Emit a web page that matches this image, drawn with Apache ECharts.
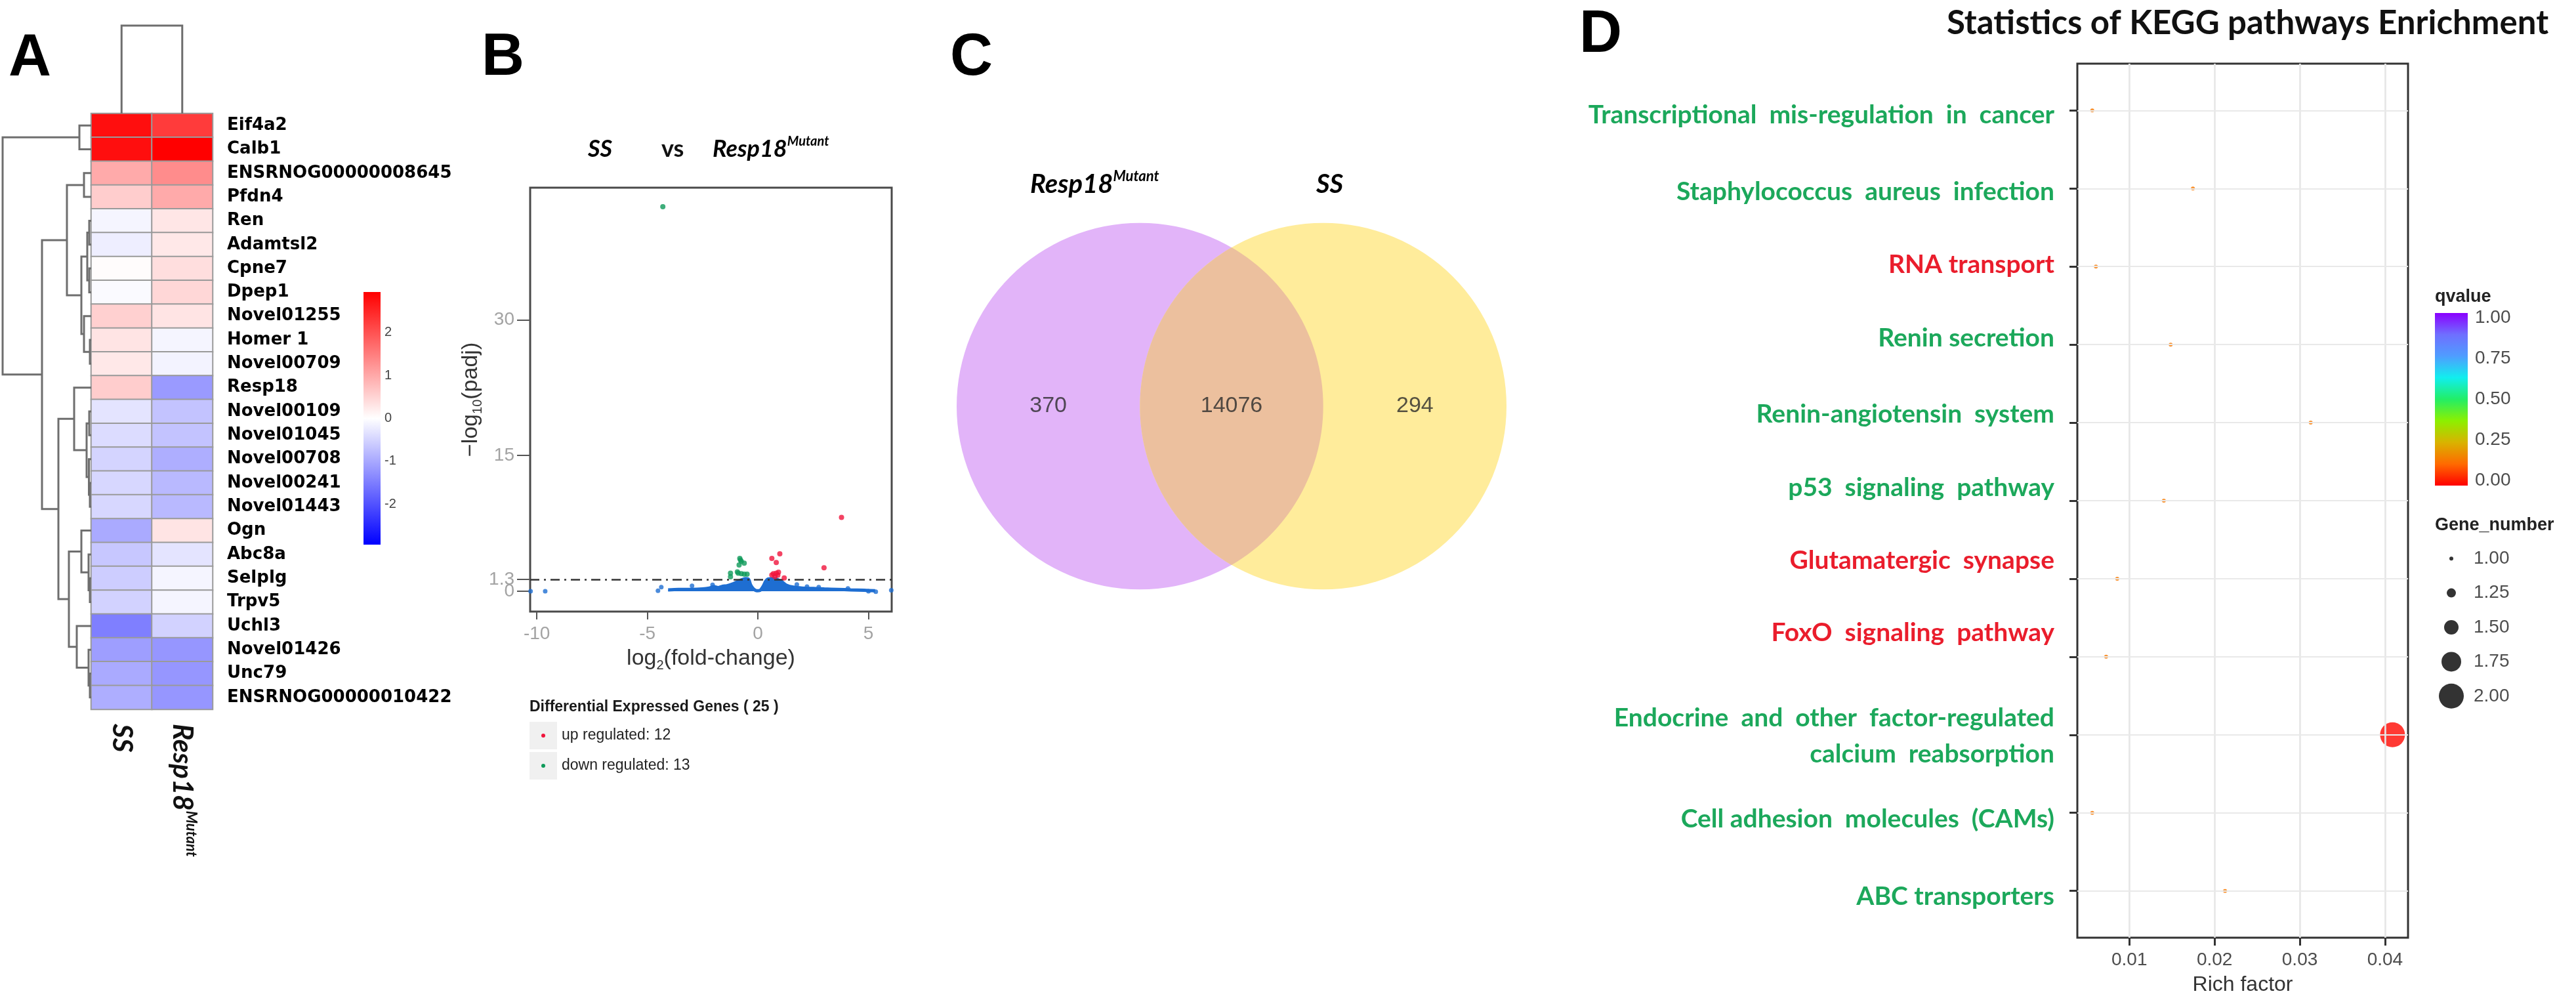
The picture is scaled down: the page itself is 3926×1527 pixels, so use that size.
<!DOCTYPE html>
<html>
<head>
<meta charset="utf-8">
<title>Resp18 transcriptome figure</title>
<script src="https://cdn.jsdelivr.net/npm/echarts@6/dist/echarts.min.js"></script>
<style>
html,body{margin:0;padding:0;background:#ffffff;}
#chart{width:3926px;height:1527px;}
</style>
</head>
<body>
<div id="chart"></div>
<script>
// ================= DATA =================
// ---- Panel A: heatmap (row z-scores) ----
const heatGenes = ['Eif4a2','Calb1','ENSRNOG00000008645','Pfdn4','Ren','Adamtsl2','Cpne7','Dpep1','Novel01255','Homer 1','Novel00709','Resp18','Novel00109','Novel01045','Novel00708','Novel00241','Novel01443','Ogn','Abc8a','Selplg','Trpv5','Uchl3','Novel01426','Unc79','ENSRNOG00000010422'];
const heatGroups = ['SS', 'Resp18Mutant'];
const heatSS     = [2.78, 2.78, 0.98, 0.58, -0.12, -0.20, 0.03, -0.06, 0.54, 0.31, 0.27, 0.58, -0.31, -0.40, -0.50, -0.46, -0.46, -0.98, -0.64, -0.58, -0.52, -1.48, -1.12, -0.98, -0.93];
const heatMutant = [2.26, 2.95, 1.33, 0.98, 0.29, 0.27, 0.38, 0.46, 0.31, -0.12, -0.14, -1.16, -0.69, -0.69, -0.93, -0.81, -0.81, 0.31, -0.31, -0.12, -0.12, -0.52, -1.21, -1.21, -1.21];
const heatScaleTicks = [-2, -1, 0, 1, 2];
// row dendrogram merges: [childA, childB, height]; ids >= 25 refer to earlier merges (25 + k)
const rowMerges = [
  [2, 3, 11], [0, 1, 18], [4, 5, 3], [6, 7, 3], [27, 28, 6], [9, 10, 2], [8, 30, 11], [29, 31, 15],
  [25, 32, 37], [12, 13, 3], [15, 16, 2], [14, 35, 3.5], [34, 36, 7], [11, 37, 26], [19, 20, 2],
  [18, 39, 4], [17, 40, 15], [23, 24, 2], [22, 42, 4], [21, 43, 22], [41, 44, 34], [38, 45, 50],
  [33, 46, 75], [26, 47, 135]
];
const colMerges = [[0, 1, 1]];

// ---- Panel B: volcano ----
const volcanoUp = [[3.78, 8.16], [0.99, 4.14], [0.63, 3.62], [0.83, 3.17], [2.99, 2.59], [0.70, 1.94], [0.83, 2.00], [0.90, 1.78], [0.77, 1.62], [0.93, 2.10], [1.19, 1.46], [0.63, 1.80]];
const volcanoDown = [[-4.30, 42.5], [-0.82, 3.62], [-0.79, 3.45], [-0.75, 3.30], [-0.62, 3.10], [-0.85, 2.90], [-1.24, 2.00], [-1.24, 1.60], [-0.93, 2.14], [-0.89, 2.00], [-0.75, 1.94], [-0.62, 1.88], [-0.49, 1.88]];
const volcanoNsScatter = [[-10.28, 0.0], [-9.62, 0.0], [-4.52, 0.05], [-4.37, 0.45], [-2.98, 0.6], [-2.05, 0.7], [1.76, 0.75], [2.22, 0.5], [2.75, 0.45], [4.07, 0.3], [5.0, 0.0], [5.33, -0.05], [6.03, 0.1]];
const volcanoNsEnvelope = [[-4.06, 0.15], [-3.6, 0.2], [-3.0, 0.2], [-2.5, 0.25], [-2.2, 0.35], [-2.0, 0.5], [-1.8, 0.4], [-1.6, 0.55], [-1.4, 0.6], [-1.2, 0.75], [-1.0, 0.95], [-0.85, 1.15], [-0.7, 1.3], [-0.55, 1.4], [-0.42, 1.3], [-0.33, 0.7], [-0.2, 0.25], [-0.05, 0.05], [0.1, 0.1], [0.25, 0.6], [0.35, 1.1], [0.45, 1.35], [0.75, 1.4], [0.95, 1.2], [1.1, 1.0], [1.3, 0.65], [1.6, 0.45], [2.0, 0.35], [2.5, 0.3], [3.0, 0.25], [3.6, 0.2], [4.2, 0.15], [4.8, 0.1], [5.3, 0.05]];
const padjCut = 1.3;
const volcanoXTicks = [-10, -5, 0, 5];
const volcanoYTicks = [1.3, 15, 30];
const volcanoYZeroTick = [0];

// ---- Panel C: Venn ----
const vennSets = ['Resp18Mutant', 'SS'];
const vennCounts = [370, 14076, 294];   // only first, both, only second

// ---- Panel D: KEGG enrichment ----
const keggPathways = ['Transcriptional  mis-regulation  in  cancer', 'Staphylococcus  aureus  infection', 'RNA transport', 'Renin secretion', 'Renin-angiotensin  system', 'p53  signaling  pathway', 'Glutamatergic  synapse', 'FoxO  signaling  pathway', 'Endocrine  and  other  factor-regulated\ncalcium  reabsorption', 'Cell adhesion  molecules  (CAMs)', 'ABC transporters'];
const keggRichFactor = [0.00565, 0.01746, 0.00608, 0.01485, 0.03128, 0.01405, 0.00858, 0.00728, 0.04088, 0.00565, 0.02123];
const keggGeneNumber = [1, 1, 1, 1, 1, 1, 1, 1, 2, 1, 1];
const keggQvalue = [0.15, 0.15, 0.15, 0.15, 0.15, 0.15, 0.15, 0.15, 0.01, 0.15, 0.15];
const keggRegulation = ['down', 'down', 'up', 'down', 'down', 'down', 'up', 'up', 'down', 'down', 'down'];
const keggXTicks = [0.01, 0.02, 0.03, 0.04];
const keggXMinor = [0.005, 0.015, 0.025, 0.035];
const qTicks = [0, 0.25, 0.5, 0.75, 1];
const geneLegend = [1, 1.25, 1.5, 1.75, 2];

// ================= STYLE / LAYOUT =================
const FA = '"Liberation Sans", Arial, sans-serif';
const FC = 'Lato, "Open Sans", sans-serif';
const FD = '"DejaVu Sans", sans-serif';
const BLUE = '#1e6ed2', UPC = '#f0143c', DOWNC = '#0f9a5a';
const heatColors = ['#0000ff', '#ffffff', '#ff0000'];
const keggRainbow = ['#ff0000', '#ff6a00', '#d9b300', '#8cf000', '#22ee66', '#11eeee', '#4f9dff', '#6f6fff', '#8a00ff'];
const keggLabelDy = [7, 5, -3, -10, -13, -20, -28, -36, 2, 10, 9];
const sizeOf = g => 6 + (g - 1) * 32;
const HEAT_LIM = 2.94;

const G = [
  {left: 139, top: 173, width: 185, height: 908},   // 0 heatmap
  {left: 4, top: 173, width: 135, height: 908},     // 1 row dendrogram
  {left: 139, top: 39, width: 185, height: 134},    // 2 column dendrogram
  {left: 554, top: 445, width: 26, height: 385},    // 3 heat colour key
  {left: 808, top: 286, width: 551, height: 646},   // 4 volcano
  {left: 1458, top: 339, width: 838, height: 560},  // 5 venn
  {left: 3166, top: 97, width: 504, height: 1332},  // 6 kegg
  {left: 3711, top: 484, width: 50, height: 248},   // 7 qvalue key
  {left: 3704, top: 825, width: 64, height: 262}    // 8 gene number key
];
const grids = G.map(g => Object.assign({containLabel: false, outerBoundsMode: 'none'}, g));
Object.assign(grids[4], {show: true, borderColor: '#4a4a4a', borderWidth: 3, backgroundColor: '#fff'});
Object.assign(grids[6], {show: true, borderColor: '#333', borderWidth: 3, backgroundColor: '#fff'});

const noLine = {show: false, onZero: false};
const noShow = {show: false};
function hAxis(gi, min, max, extra) {
  return Object.assign({type: 'value', gridIndex: gi, min: min, max: max, show: false, axisLine: noLine}, extra || {});
}

// dendrogram layout
const nLeaf = heatGenes.length;
const dPos = {}, dH = {};
for (let i = 0; i < nLeaf; i++) { dPos[i] = i + 0.5; dH[i] = 0; }
const rowSegs = rowMerges.map((m, k) => {
  const id = nLeaf + k, a = m[0], b = m[1], h = m[2];
  dPos[id] = (dPos[a] + dPos[b]) / 2; dH[id] = h;
  return [dH[a], dPos[a], dH[b], dPos[b], h];
});
const colSegs = colMerges.map(m => [m[0] + 0.5, m[1] + 0.5, m[2]]);

const heatData = [];
heatGenes.forEach((g, i) => { heatData.push([0, i, heatSS[i]]); heatData.push([1, i, heatMutant[i]]); });

const keggIdx = keggPathways.map((p, i) => i);
const keggRich = {};
keggPathways.forEach((p, i) => {
  const d = keggLabelDy[i];
  keggRich['r' + i] = {
    color: keggRegulation[i] === 'up' ? '#ea1d2c' : '#1ca85b',
    fontFamily: FC, fontWeight: 'bold', fontSize: 39, lineHeight: 55,
    padding: d >= 0 ? [2 * d, 0, 0, 0] : [0, 0, -2 * d, 0]
  };
});

const italicRich = (big, small) => ({
  i: {fontFamily: FC, fontStyle: 'italic', fontWeight: 'bold', fontSize: big, lineHeight: big + 6, color: '#111'},
  s: {fontFamily: FC, fontStyle: 'italic', fontWeight: 'bold', fontSize: small, lineHeight: small + 2, verticalAlign: 'top', color: '#111'}
});
const groupLabel = v => v === 'Resp18Mutant' ? '{i|Resp18}{s|Mutant}' : '{i|' + v + '}';
const volcYLabel = {color: '#a3a3a3', fontSize: 28, margin: 24, fontFamily: FA, hideOverlap: false};

// ================= OPTION =================
const xAxes = [
  {type: 'category', gridIndex: 0, data: heatGroups, axisLine: noLine, axisTick: noShow, splitLine: noShow,
   axisLabel: {rotate: -90, margin: 22, formatter: groupLabel, rich: italicRich(42, 22)}},
  hAxis(1, 0, 135, {inverse: true}),
  hAxis(2, 0, 2),
  hAxis(3, 0, 1),
  {type: 'value', gridIndex: 4, min: -10.3, max: 6.05, axisLine: noLine, splitLine: noShow,
   axisTick: {show: true, length: 12, customValues: volcanoXTicks, lineStyle: {color: '#555', width: 2}},
   axisLabel: {customValues: volcanoXTicks, color: '#a3a3a3', fontSize: 28, margin: 20, fontFamily: FA},
   name: '{a|log}{s|2}{a|(fold-change)}', nameLocation: 'middle', nameGap: 52,
   nameTextStyle: {rich: {a: {fontSize: 34, color: '#333', fontFamily: FA, lineHeight: 40},
                          s: {fontSize: 20, color: '#333', fontFamily: FA, lineHeight: 20, verticalAlign: 'bottom'}}}},
  hAxis(5, -1, 2),
  {type: 'value', gridIndex: 6, min: 0.0039, max: 0.0427, axisLine: noLine, splitLine: noShow,
   axisTick: {show: true, customValues: keggXTicks, length: 12, lineStyle: {color: '#333', width: 3}},
   axisLabel: {customValues: keggXTicks, formatter: v => v.toFixed(2), color: '#4d4d4d', fontSize: 28, margin: 20, fontFamily: FA},
   name: 'Rich factor', nameLocation: 'middle', nameGap: 56, nameTextStyle: {fontSize: 32, color: '#333', fontFamily: FA}},
  hAxis(7, 0, 1),
  hAxis(8, -1, 1)
];
const yAxes = [
  {type: 'category', gridIndex: 0, data: heatGenes, inverse: true, position: 'right', axisLine: noLine, axisTick: noShow, splitLine: noShow,
   axisLabel: {margin: 22, fontFamily: FD, fontWeight: 'bold', fontSize: 26, color: '#000', interval: 0}},
  hAxis(1, 0, 25, {inverse: true}),
  hAxis(2, 0, 1),
  {type: 'value', gridIndex: 3, min: -HEAT_LIM, max: HEAT_LIM, position: 'right', axisLine: noLine, axisTick: noShow, splitLine: noShow,
   axisLabel: {customValues: heatScaleTicks, margin: 6, fontSize: 20, color: '#444', fontFamily: FA}},
  {type: 'value', gridIndex: 4, min: -2.25, max: 44.6, position: 'left', axisLine: noLine, splitLine: noShow,
   axisTick: {show: true, length: 20, customValues: volcanoYTicks.concat(volcanoYZeroTick), lineStyle: {color: '#555', width: 2}},
   axisLabel: Object.assign({customValues: volcanoYTicks}, volcYLabel),
   name: '{a|\u2212log}{s|10}{a|(padj)}', nameLocation: 'middle', nameRotate: 90, nameGap: 70,
   nameTextStyle: {rich: {a: {fontSize: 34, color: '#333', fontFamily: FA, lineHeight: 40},
                          s: {fontSize: 20, color: '#333', fontFamily: FA, lineHeight: 20, verticalAlign: 'bottom'}}}},
  hAxis(5, -1, 1),
  {type: 'value', gridIndex: 6, min: -0.6, max: 10.6, inverse: true, axisLine: noLine, splitLine: noShow,
   axisTick: {show: true, customValues: keggIdx, length: 12, lineStyle: {color: '#333', width: 3}},
   axisLabel: {customValues: keggIdx, margin: 35, formatter: v => { const i = Math.round(v); return '{r' + i + '|' + keggPathways[i] + '}'; }, rich: keggRich}},
  {type: 'value', gridIndex: 7, min: 0, max: 1, position: 'right', axisLine: noLine, axisTick: noShow, splitLine: noShow,
   axisLabel: {customValues: qTicks, formatter: v => v.toFixed(2), margin: 11, fontSize: 28, color: '#4d4d4d', fontFamily: FA}},
  {type: 'category', gridIndex: 8, data: geneLegend.map(g => g.toFixed(2)), inverse: true, position: 'right', axisLine: noLine, axisTick: noShow, splitLine: noShow,
   axisLabel: {margin: 2, fontSize: 28, color: '#4d4d4d', fontFamily: FA}},
  // 9: second left axis on the volcano grid carrying only the "0" label (overlaps "1.3" as in the original)
  {type: 'value', gridIndex: 4, min: -2.25, max: 44.6, position: 'left', axisLine: noLine, axisTick: noShow, splitLine: noShow,
   axisLabel: Object.assign({customValues: volcanoYZeroTick}, volcYLabel)}
];

const series = [];
// 0 heatmap
series.push({type: 'heatmap', xAxisIndex: 0, yAxisIndex: 0, data: heatData, silent: true,
  itemStyle: {borderColor: '#9a9a9a', borderWidth: 2}});
// 1 row dendrogram
series.push({type: 'custom', xAxisIndex: 1, yAxisIndex: 1, data: rowSegs, silent: true,
  renderItem: (params, api) => {
    const ha = api.value(0), pa = api.value(1), hb = api.value(2), pb = api.value(3), h = api.value(4);
    return {type: 'polyline', shape: {points: [api.coord([ha, pa]), api.coord([h, pa]), api.coord([h, pb]), api.coord([hb, pb])]},
      style: {stroke: '#6e6e6e', lineWidth: 3, fill: 'none'}};
  }});
// 2 column dendrogram
series.push({type: 'custom', xAxisIndex: 2, yAxisIndex: 2, data: colSegs, silent: true,
  renderItem: (params, api) => {
    const pa = api.value(0), pb = api.value(1), h = api.value(2);
    return {type: 'polyline', shape: {points: [api.coord([pa, 0]), api.coord([pa, h]), api.coord([pb, h]), api.coord([pb, 0])]},
      style: {stroke: '#6e6e6e', lineWidth: 3, fill: 'none'}};
  }});
// 3 volcano dense non-significant cloud
series.push({type: 'line', xAxisIndex: 4, yAxisIndex: 4, data: volcanoNsEnvelope, showSymbol: false, symbol: 'none', smooth: 0.3, silent: true,
  lineStyle: {color: BLUE, width: 5}, areaStyle: {color: BLUE, opacity: 1, origin: 'auto'}, z: 2});
// 4 volcano scattered non-significant
series.push({type: 'scatter', xAxisIndex: 4, yAxisIndex: 4, data: volcanoNsScatter, symbolSize: 7, itemStyle: {color: BLUE}, silent: true, z: 3});
// 5 up
series.push({type: 'scatter', xAxisIndex: 4, yAxisIndex: 4, data: volcanoUp, symbolSize: 8, itemStyle: {color: UPC}, silent: true, z: 5,
  markLine: {silent: true, symbol: ['none', 'none'], label: {show: false}, animation: false,
    lineStyle: {color: '#333', width: 2.5, type: [14, 7, 3, 7]}, data: [{yAxis: padjCut}]}});
// 6 down
series.push({type: 'scatter', xAxisIndex: 4, yAxisIndex: 4, data: volcanoDown, symbolSize: 8, itemStyle: {color: DOWNC}, silent: true, z: 5});
// 7 venn circles
const vennColors = ['#e2b4f9', '#ffec9b'];
series.push({type: 'custom', xAxisIndex: 5, yAxisIndex: 5, data: vennSets.map((s, i) => [i, 0]), silent: true,
  renderItem: (params, api) => {
    const c = api.coord([api.value(0), api.value(1)]);
    const r = api.size([1, 0])[0];
    return {type: 'circle', shape: {cx: c[0], cy: c[1], r: r}, style: {fill: vennColors[params.dataIndex]}};
  }});
// 8 venn overlap lens
series.push({type: 'custom', xAxisIndex: 5, yAxisIndex: 5, data: [[0.5, 0]], silent: true,
  renderItem: (params, api) => {
    const c0 = api.coord([0, 0]), c1 = api.coord([1, 0]);
    const r = c1[0] - c0[0];
    const pts = [];
    for (let k = 0; k <= 60; k++) { const a = -Math.PI / 3 + (2 * Math.PI / 3) * k / 60; pts.push([c0[0] + r * Math.cos(a), c0[1] + r * Math.sin(a)]); }
    for (let k = 0; k <= 60; k++) { const a = 2 * Math.PI / 3 + (2 * Math.PI / 3) * k / 60; pts.push([c1[0] + r * Math.cos(a), c1[1] + r * Math.sin(a)]); }
    return {type: 'polygon', shape: {points: pts}, style: {fill: '#ecc09e'}};
  }});
// 9 venn counts
series.push({type: 'scatter', xAxisIndex: 5, yAxisIndex: 5, silent: true, symbolSize: 1, itemStyle: {color: 'rgba(0,0,0,0)'},
  data: [[-0.5, 0, vennCounts[0]], [0.5, 0, vennCounts[1]], [1.5, 0, vennCounts[2]]],
  label: {show: true, position: 'inside', formatter: p => String(p.value[2]), fontSize: 34, color: '#2b2b2b', fontFamily: FA}});
// 10 kegg grid lines
const gl = (c, w) => ({color: c, width: w, type: 'solid'});
series.push({type: 'scatter', xAxisIndex: 6, yAxisIndex: 6, data: [[0.01, 0]], symbolSize: 0, silent: true, z: 1,
  markLine: {silent: true, symbol: ['none', 'none'], label: {show: false}, animation: false,
    data: [].concat(
      keggXMinor.map(v => ({xAxis: v, lineStyle: gl('#f3f3f3', 1.5)})),
      keggXTicks.map(v => ({xAxis: v, lineStyle: gl('#e6e6e6', 2.5)})),
      keggIdx.map(v => ({yAxis: v, lineStyle: gl('#e9e9e9', 2)})))}});
// 11 kegg points
series.push({type: 'scatter', xAxisIndex: 6, yAxisIndex: 6, silent: true, z: 4,
  data: keggPathways.map((p, i) => [keggRichFactor[i], i, keggQvalue[i], keggGeneNumber[i]]),
  symbolSize: v => sizeOf(v[3])});
// 12 gene number legend
series.push({type: 'scatter', xAxisIndex: 8, yAxisIndex: 8, silent: true,
  data: geneLegend.map((g, i) => [0, i, g]), symbolSize: v => sizeOf(v[2]), itemStyle: {color: '#000'}});

const LG = echarts.graphic.LinearGradient;
const txt = (x, y, text, st) => ({type: 'text', x: x, y: y, silent: true,
  style: Object.assign({text: text, fill: '#000', align: 'left', verticalAlign: 'middle', textAlign: 'left', textVerticalAlign: 'middle'}, st || {})});
const letter = (x, y, t) => txt(x, y, t, {fontSize: 90, fontWeight: 'bold', fontFamily: FA});

const upN = volcanoUp.length, downN = volcanoDown.length;
const graphic = [
  letter(13, 90, 'A'), letter(734, 89, 'B'), letter(1448, 89, 'C'), letter(2407, 54, 'D'),
  // heat colour key
  {type: 'rect', silent: true, shape: {x: 554, y: 445, width: 26, height: 385},
   style: {fill: new LG(0, 0, 0, 1, [{offset: 0, color: heatColors[2]}, {offset: 0.5, color: heatColors[1]}, {offset: 1, color: heatColors[0]}])}},
  // volcano title
  txt(896, 227, '{i|' + heatGroups[0] + '}', {rich: italicRich(36, 20)}),
  txt(1008, 227, 'vs', {fontFamily: FC, fontWeight: 'bold', fontSize: 36, fill: '#111'}),
  txt(1086, 227, groupLabel(heatGroups[1]), {rich: italicRich(36, 20)}),
  // volcano legend
  txt(807, 1078, 'Differential Expressed Genes ( ' + (upN + downN) + ' )', {fontFamily: FA, fontWeight: 'bold', fontSize: 23, fill: '#1a1a1a'}),
  {type: 'rect', silent: true, shape: {x: 807, y: 1100, width: 42, height: 42}, style: {fill: '#f0f0f0'}},
  {type: 'rect', silent: true, shape: {x: 807, y: 1146, width: 42, height: 42}, style: {fill: '#f0f0f0'}},
  {type: 'circle', silent: true, shape: {cx: 828, cy: 1121, r: 3}, style: {fill: UPC}},
  {type: 'circle', silent: true, shape: {cx: 828, cy: 1167, r: 3}, style: {fill: DOWNC}},
  txt(856, 1121, 'up regulated: ' + upN, {fontFamily: FA, fontSize: 23, fill: '#222'}),
  txt(856, 1167, 'down regulated: ' + downN, {fontFamily: FA, fontSize: 23, fill: '#222'}),
  // venn set names
  txt(1570, 281, groupLabel(vennSets[0]), {rich: italicRich(40, 22)}),
  txt(2006, 281, groupLabel(vennSets[1]), {rich: italicRich(40, 22)}),
  // kegg title
  txt(2967, 36, 'Statistics of KEGG pathways Enrichment', {fontFamily: FC, fontWeight: 'bold', fontSize: 51, fill: '#111'}),
  // q colour key
  {type: 'rect', silent: true, shape: {x: 3711, y: 477, width: 50, height: 263},
   style: {fill: new LG(0, 0, 0, 1, keggRainbow.slice().reverse().map((c, i, a) => ({offset: i / (a.length - 1), color: c})))}},
  txt(3711, 453, 'qvalue', {fontFamily: FA, fontWeight: 'bold', fontSize: 27, fill: '#222'}),
  txt(3711, 801, 'Gene_number', {fontFamily: FA, fontWeight: 'bold', fontSize: 27, fill: '#222'})
];

const option = {
  backgroundColor: '#ffffff',
  animation: false,
  textStyle: {fontFamily: FA},
  grid: grids,
  xAxis: xAxes,
  yAxis: yAxes,
  visualMap: [
    {type: 'continuous', show: false, seriesIndex: 0, dimension: 2, min: -HEAT_LIM, max: HEAT_LIM, inRange: {color: heatColors}},
    {type: 'continuous', show: false, seriesIndex: 11, dimension: 2, min: 0, max: 1, inRange: {color: keggRainbow}}
  ],
  series: series,
  graphic: graphic
};

const chart = echarts.init(document.getElementById('chart'), null, {renderer: 'canvas', width: 3926, height: 1527});
chart.setOption(option);
</script>
</body>
</html>
